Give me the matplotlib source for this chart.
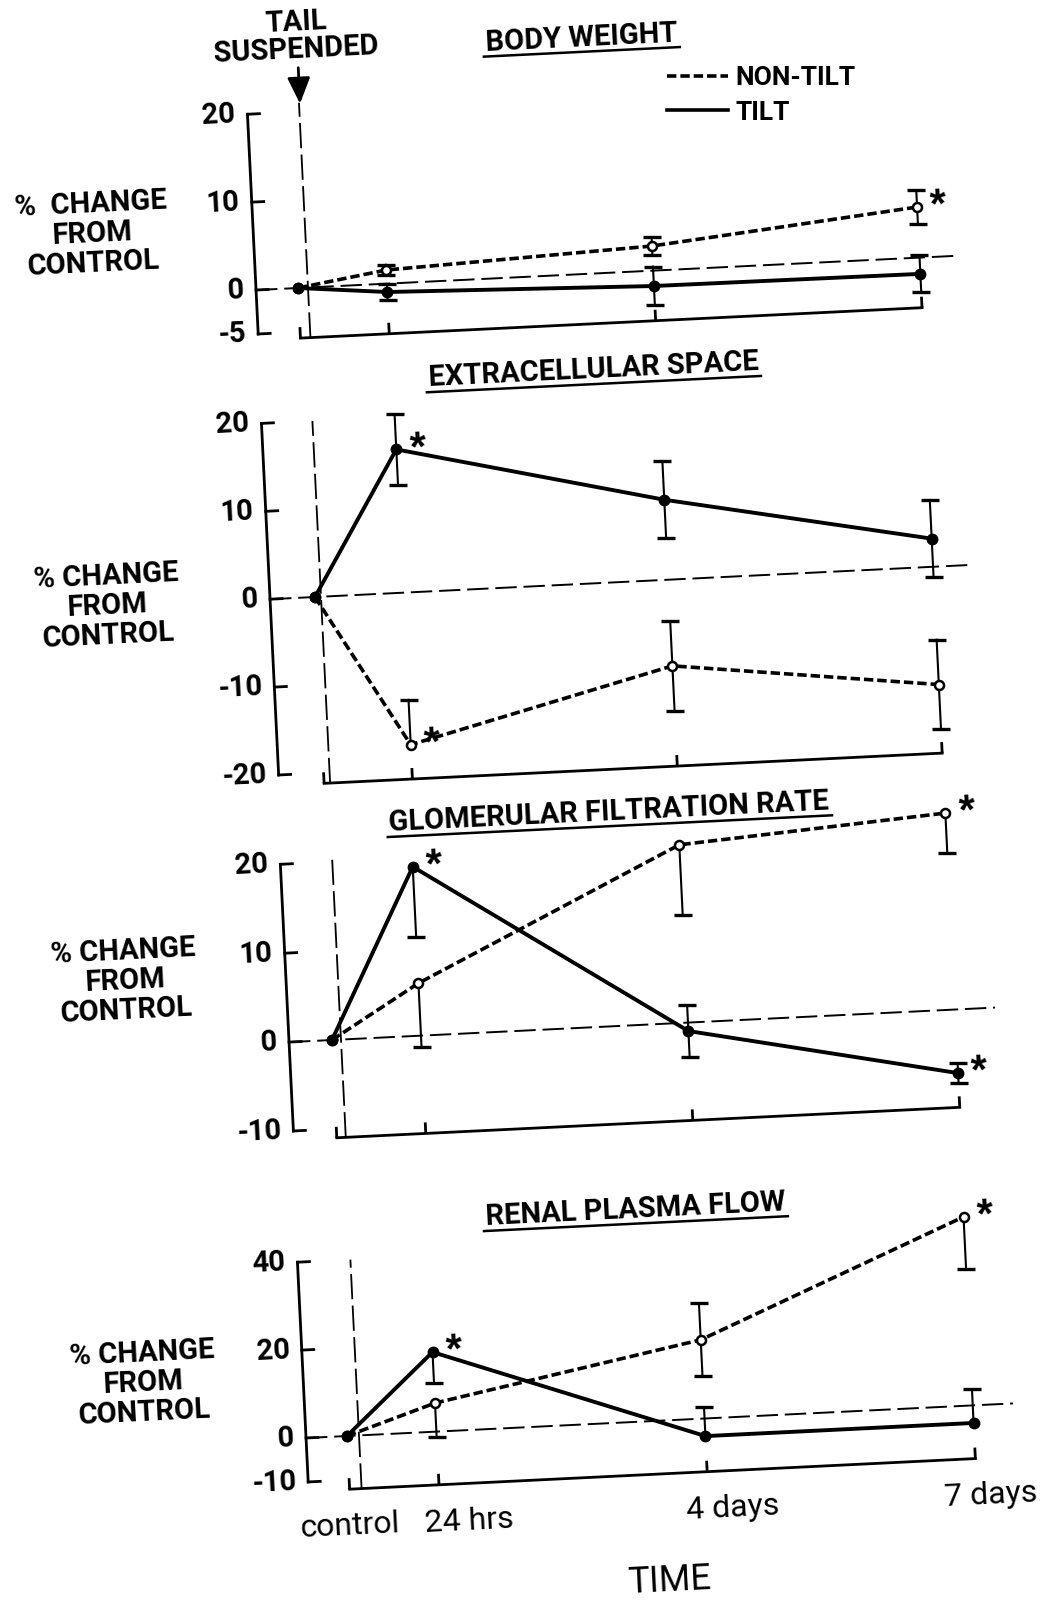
import matplotlib
matplotlib.use("Agg")
import matplotlib.pyplot as plt
from matplotlib import font_manager
from matplotlib.font_manager import FontProperties
from matplotlib.lines import Line2D
from matplotlib.transforms import Affine2D

# ---------------- data: % change from control ----------------
days = [0, 1, 4, 7]
time_labels = ["control", "24 hrs", "4 days", "7 days"]

bw_tilt = [0, -0.95, -1.75, -1.85]
bw_tilt_err_lo = [0, 0.9, 2.2, 2.1]
bw_tilt_err_hi = [0, 0.9, 2.2, 2.1]
bw_nontilt = [0, 1.55, 2.8, 5.75]
bw_nontilt_err_lo = [0, 0.6, 1.0, 1.9]
bw_nontilt_err_hi = [0, 0.6, 1.0, 1.9]
bw_stars = [("nontilt", 3)]

ecs_tilt = [0, 16.3, 9.1, 3.2]
ecs_tilt_err_lo = [0, 4.0, 4.4, 4.4]
ecs_tilt_err_hi = [0, 4.0, 4.4, 4.4]
ecs_nontilt = [0, -17.3, -9.8, -13.4]
ecs_nontilt_err_lo = [0, 0, 5.1, 5.1]
ecs_nontilt_err_hi = [0, 5.1, 5.1, 5.1]
ecs_stars = [("tilt", 1), ("nontilt", 1)]

gfr_tilt = [0, 19.0, -0.95, -7.15]
gfr_tilt_err_lo = [0, 7.9, 2.9, 1.1]
gfr_tilt_err_hi = [0, 0, 2.9, 1.1]
gfr_nontilt = [0, 5.9, 20.0, 22.1]
gfr_nontilt_err_lo = [0, 7.2, 7.9, 4.5]
gfr_nontilt_err_hi = [0, 0, 0, 0]
gfr_stars = [("tilt", 1), ("nontilt", 3), ("tilt", 3)]

rpf_tilt = [0, 18.1, -4.0, -4.0]
rpf_tilt_err_lo = [0, 7.0, 0, 0]
rpf_tilt_err_hi = [0, 0, 6.6, 7.7]
rpf_nontilt = [0, 6.5, 17.9, 42.9]
rpf_nontilt_err_lo = [0, 7.7, 8.3, 11.8]
rpf_nontilt_err_hi = [0, 0, 8.3, 0]
rpf_stars = [("tilt", 1), ("nontilt", 3)]

# ---------------- layout (pixels) ----------------
W, H = 1046, 1602
ANGLE = 2.8          # the sheet sits slightly rotated
panels = [
    dict(title="BODY WEIGHT", ylab1="%  CHANGE", yticks=[-5, 0, 10, 20],
         tilt=(bw_tilt, bw_tilt_err_lo, bw_tilt_err_hi),
         nontilt=(bw_nontilt, bw_nontilt_err_lo, bw_nontilt_err_hi),
         stars=bw_stars, origin=(298, 288), ppd=88.9, ppu=8.8,
         axis_px=-42, tail_px=10, tail_extra=9, bracket=-5.7,
         title_at=(295, 238), ylabel_at=(-203, 64)),
    dict(title="EXTRACELLULAR SPACE", ylab1="% CHANGE", yticks=[-20, -10, 0, 10, 20],
         tilt=(ecs_tilt, ecs_tilt_err_lo, ecs_tilt_err_hi),
         nontilt=(ecs_nontilt, ecs_nontilt_err_lo, ecs_nontilt_err_hi),
         stars=ecs_stars, origin=(315, 597), ppd=88.4, ppu=8.8,
         axis_px=-45, tail_px=6, tail_extra=0, bracket=-21.2,
         title_at=(289, 215), ylabel_at=(-208, 1)),
    dict(title="GLOMERULAR FILTRATION RATE", ylab1="% CHANGE", yticks=[-10, 0, 10, 20],
         tilt=(gfr_tilt, gfr_tilt_err_lo, gfr_tilt_err_hi),
         nontilt=(gfr_nontilt, gfr_nontilt_err_lo, gfr_nontilt_err_hi),
         stars=gfr_stars, origin=(332, 1040), ppd=89.1, ppu=8.9,
         axis_px=-43, tail_px=9, tail_extra=2, bracket=-11.0,
         title_at=(288, 216), ylabel_at=(-204, 69)),
    dict(title="RENAL PLASMA FLOW", ylab1="% CHANGE", yticks=[-10, 0, 20, 40],
         tilt=(rpf_tilt, rpf_tilt_err_lo, rpf_tilt_err_hi),
         nontilt=(rpf_nontilt, rpf_nontilt_err_lo, rpf_nontilt_err_hi),
         stars=rpf_stars, origin=(347, 1436), ppd=89.5, ppu=4.4,
         axis_px=-41, tail_px=12, tail_extra=0, bracket=-12.1,
         title_at=(299, 214), ylabel_at=(-201, 63)),
]
XLABEL_NUDGE = [0, 30, 26, 16]
ZERO_END = 7.45

names = {f.name for f in font_manager.fontManager.ttflist}
LETTER = "Roboto" if "Roboto" in names else "DejaVu Sans"
letter_fp = FontProperties(family=[LETTER, "DejaVu Sans"], weight="bold", size=21)
legend_fp = FontProperties(family=[LETTER, "DejaVu Sans"], weight="bold", size=19)
time_fp = FontProperties(family=[LETTER, "DejaVu Sans"], size=23)
axis_title_fp = FontProperties(family=[LETTER, "DejaVu Sans"], size=26)
star_fp = FontProperties(family=["Liberation Sans", "DejaVu Sans"], weight="bold", size=30)

TILT = dict(color="k", lw=2.8, ls="-", marker="o", ms=7.5, mfc="k", mec="k",
            solid_joinstyle="round", zorder=4)
NONTILT = dict(color="k", lw=2.6, dashes=(2.6, 1.1), marker="o", ms=6.5, mfc="white",
               mec="k", mew=1.8, zorder=4)

fig = plt.figure(figsize=(W / 100, H / 100), dpi=100)
fig.patch.set_facecolor("white")
renderer = fig.canvas.get_renderer()


def draw_panel(p, is_first, is_last):
    X0, Y0 = p["origin"][0], H - p["origin"][1]
    ppd, ppu = p["ppd"], p["ppu"]
    ax = fig.add_axes([0, 0, 1, 1])
    ax.set_axis_off()
    ax.set_xlim(-X0 / ppd, (W - X0) / ppd)
    ax.set_ylim(-Y0 / ppu, (H - Y0) / ppu)
    rot = Affine2D().rotate_deg_around(X0, Y0, ANGLE)
    T = ax.transData + rot
    Tpx = Affine2D().translate(X0, Y0) + rot
    txt = dict(rotation=ANGLE, rotation_mode="anchor")

    ymin, ymax = p["yticks"][0], p["yticks"][-1]
    ax_d = p["axis_px"] / ppd
    ax.plot([ax_d, ax_d], [ymin, ymax], color="k", lw=2, transform=T,
            solid_capstyle="projecting")
    for t in p["yticks"]:
        ax.plot([ax_d, ax_d + 12 / ppd], [t, t], color="k", lw=2, transform=T)
        ax.annotate(str(t), xy=(ax_d, t), xycoords=T, xytext=(-12, 0),
                    textcoords="offset pixels", ha="right", va="center",
                    fontproperties=letter_fp, **txt)

    # time axis bracket
    bv = p["bracket"]
    ax.plot([days[0], days[-1]], [bv, bv], color="k", lw=2, transform=T)
    ax.vlines(days, bv, bv + 11 / ppu, color="k", lw=2, transform=T)

    # tail suspension marker and zero line
    td = p["tail_px"] / ppd
    ax.plot([td, td], [bv, ymax + p["tail_extra"] / ppu], color="k", lw=1.3,
            dashes=(14, 3.5), transform=T)
    ax.plot([ax_d, ZERO_END], [0, 0], color="k", lw=1.4, dashes=(11, 3.5), transform=T)

    for key, style in (("nontilt", NONTILT), ("tilt", TILT)):
        vals, lo, hi = p[key]
        for d, v, l, h in zip(days, vals, lo, hi):
            if l or h:
                ax.plot([d, d], [v - l, v + h], color="k", lw=1.5, transform=T, zorder=3)
                caps = [y for y, e in ((v - l, l), (v + h, h)) if e]
                ax.plot([d] * len(caps), caps, ls="none", marker="_", ms=13, mew=2.4,
                        color="k", transform=T, zorder=3)
        ax.plot(days, vals, transform=T, **style)

    for key, i in p["stars"]:
        ax.annotate("*", xy=(days[i], p[key][0][i]), xycoords=T, xytext=(22, -10),
                    textcoords="offset pixels", ha="center", va="baseline",
                    fontproperties=star_fp, **txt)

    # panel title with underline
    tu, tw_ = p["title_at"]
    ax.text(tu, tw_ - 10, p["title"], transform=Tpx, ha="center", va="baseline",
            fontproperties=letter_fp, **txt)
    width, _, _ = renderer.get_text_width_height_descent(p["title"], letter_fp, ismath=False)
    ax.plot([tu - width / 2 - 2, tu + width / 2 + 2], [tw_ - 16, tw_ - 16], color="k",
            lw=1.8, transform=Tpx)

    yu, yw = p["ylabel_at"]
    for k, line in enumerate([p["ylab1"], "FROM", "CONTROL"]):
        ax.text(yu, yw + 29.5 * (1 - k), line, transform=Tpx, ha="center", va="center",
                fontproperties=letter_fp, **txt)

    if is_first:
        ax.text(11, 265, "TAIL", transform=Tpx, ha="center", va="center",
                fontproperties=letter_fp, **txt)
        ax.text(10, 238, "SUSPENDED", transform=Tpx, ha="center", va="center",
                fontproperties=letter_fp, **txt)
        ax.annotate("", xy=(11, 184), xycoords=Tpx, xytext=(11, 220), textcoords=Tpx,
                    arrowprops=dict(arrowstyle="-|>,head_length=0.8,head_width=0.35",
                                    color="k", lw=2, mutation_scale=20,
                                    shrinkA=0, shrinkB=0))

    if is_last:
        for d, lab, nudge in zip(days, time_labels, XLABEL_NUDGE):
            ax.annotate(lab, xy=(d, bv), xycoords=T, xytext=(nudge, -37),
                        textcoords="offset pixels", ha="center", va="center",
                        fontproperties=time_fp, **txt)
        ax.text(315, -161, "TIME", transform=Tpx, ha="center", va="center",
                fontproperties=axis_title_fp, **txt)


for n, p in enumerate(panels):
    draw_panel(p, n == 0, n == len(panels) - 1)

handles = [Line2D([], [], color="k", lw=2.6, dashes=(2.6, 1.1)),
           Line2D([], [], color="k", lw=2.6)]
fig.legend(handles, ["NON-TILT", "TILT"], loc="upper left",
           bbox_to_anchor=(667 / W, 1 - 66 / H), frameon=False, prop=legend_fp,
           handlelength=2.3, handletextpad=0.3, labelspacing=0.4,
           borderpad=0, borderaxespad=0)

fig.savefig("out.png", dpi=100, facecolor="white")
